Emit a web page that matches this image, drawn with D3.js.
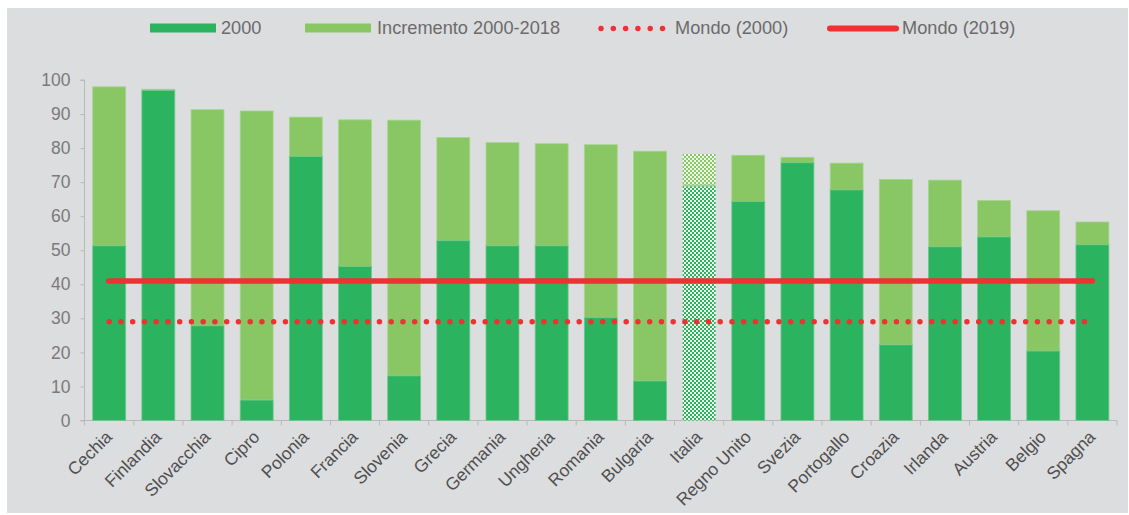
<!DOCTYPE html>
<html><head><meta charset="utf-8">
<script src="https://cdn.jsdelivr.net/npm/d3@7"></script>
<style>
html,body{margin:0;padding:0;background:#fff;}
svg{display:block;font-family:"Liberation Sans",Arial,sans-serif;}
</style></head>
<body>
<svg id="chart" width="1129" height="515"></svg>
<script>
const categories = ["Cechia","Finlandia","Slovacchia","Cipro","Polonia","Francia","Slovenia","Grecia","Germania","Ungheria","Romania","Bulgaria","Italia","Regno Unito","Svezia","Portogallo","Croazia","Irlanda","Austria","Belgio","Spagna"];
const values2000 = [51.3,96.9,27.8,6.0,77.5,45.2,13.1,52.8,51.3,51.3,30.2,11.6,69.0,64.3,75.7,67.7,22.2,51.0,53.9,20.4,51.6];
const total2018 = [98.0,97.3,91.3,90.9,89.1,88.3,88.2,83.1,81.6,81.3,81.0,79.1,78.3,77.9,77.3,75.6,70.8,70.6,64.6,61.6,58.3];
const world2000 = 29;
const world2019 = 41;
const yTicks = [0,10,20,30,40,50,60,70,80,90,100];
const legendLabels = ["2000","Incremento 2000-2018","Mondo (2000)","Mondo (2019)"];
const highlight = "Italia";

const C = {bg:"#dcdddf", dark:"#2bb35f", light:"#89c764", red:"#ee3131", text:"#6b6b6b", axis:"#b9b9b9"};

const svg = d3.select("#chart");
svg.append("rect").attr("x",0).attr("y",0).attr("width",1129).attr("height",515).attr("fill","#fff");
svg.append("rect").attr("x",7).attr("y",8).attr("width",1121).attr("height",505).attr("fill",C.bg);

// patterns for highlighted bar
const defs = svg.append("defs");
function checker(id, col){
  const p = defs.append("pattern").attr("id",id).attr("patternUnits","userSpaceOnUse").attr("width",4).attr("height",4);
  p.append("rect").attr("width",4).attr("height",4).attr("fill","#eef5ea");
  p.append("rect").attr("width",2).attr("height",2).attr("fill",col);
  p.append("rect").attr("x",2).attr("y",2).attr("width",2).attr("height",2).attr("fill",col);
}
checker("chkDark", C.dark);
checker("chkLight", C.light);

const x = d3.scaleBand().domain(categories).range([84.6,1117]).paddingInner(0.33).paddingOuter(0.165);
const y = d3.scaleLinear().domain([0,100]).range([420.5,80]);

// y axis
const yAxis = d3.axisLeft(y).tickValues(yTicks).tickSize(4).tickPadding(10).tickFormat(d3.format("d"));
const gy = svg.append("g").attr("transform","translate(84.5,0)").call(yAxis);
gy.select(".domain").attr("stroke",C.axis).attr("d","M-4,420.5H0V80H-4");
gy.selectAll(".tick line").attr("stroke",C.axis);
gy.selectAll(".tick text").attr("fill","#7a7a7a").attr("font-size",17.5).attr("font-family","Liberation Sans, Arial, sans-serif");

// x axis line and ticks at band boundaries
const step = x.step();
const bounds = d3.range(categories.length+1).map(i => 84.6 + i*step);
svg.append("line").attr("x1",84.6).attr("x2",1117).attr("y1",420.5).attr("y2",420.5).attr("stroke",C.axis);
svg.selectAll(".xt").data(bounds).enter().append("line")
  .attr("x1",d=>d).attr("x2",d=>d).attr("y1",420.5).attr("y2",425.5).attr("stroke",C.axis);

// bars
const bars = svg.append("g");
categories.forEach((c,i)=>{
  const hi = c===highlight;
  bars.append("rect").attr("x",x(c)).attr("width",x.bandwidth())
    .attr("y",y(total2018[i])).attr("height",y(values2000[i])-y(total2018[i]))
    .attr("fill",hi?"url(#chkLight)":C.light).attr("stroke",hi?"none":"#a6d690").attr("stroke-width",0.8);
  bars.append("rect").attr("x",x(c)).attr("width",x.bandwidth())
    .attr("y",y(values2000[i])).attr("height",y(0)-y(values2000[i]))
    .attr("fill",hi?"url(#chkDark)":C.dark).attr("stroke",hi?"none":"#6cc98a").attr("stroke-width",0.8);
  if(hi){
    bars.append("line").attr("x1",x(c)).attr("x2",x(c)+x.bandwidth()).attr("y1",y(values2000[i])).attr("y2",y(values2000[i]))
      .attr("stroke","#9fcf9a").attr("stroke-width",2);
  }
});

// world lines
const xs = x(categories[0])+x.bandwidth()/2, xe = x(categories[categories.length-1])+x.bandwidth()/2;
svg.append("line").attr("x1",xs).attr("x2",xe-6).attr("y1",y(world2000)).attr("y2",y(world2000))
  .attr("stroke",C.red).attr("stroke-width",5.5).attr("stroke-linecap","round").attr("stroke-dasharray","0 11.75");
svg.append("line").attr("x1",xs-0.5).attr("x2",xe).attr("y1",y(world2019)).attr("y2",y(world2019))
  .attr("stroke",C.red).attr("stroke-width",5.5).attr("stroke-linecap","round");

// x labels
svg.append("g").selectAll("text").data(categories).enter().append("text")
  .attr("transform",d=>`translate(${x(d)+x.bandwidth()/2+4},${438}) rotate(-45)`)
  .attr("text-anchor","end").attr("fill","#505050").attr("font-size",17.5).text(d=>d);

// legend
const lg = svg.append("g").attr("font-size",18.2).attr("fill",C.text);
lg.append("rect").attr("x",150).attr("y",23.5).attr("width",66).attr("height",9).attr("fill",C.dark);
lg.append("text").attr("x",221).attr("y",34).text(legendLabels[0]);
lg.append("rect").attr("x",305).attr("y",23.5).attr("width",66).attr("height",9).attr("fill",C.light);
lg.append("text").attr("x",377).attr("y",34).text(legendLabels[1]);
lg.append("line").attr("x1",601).attr("x2",664).attr("y1",28.5).attr("y2",28.5).attr("stroke",C.red)
  .attr("stroke-width",5.5).attr("stroke-linecap","round").attr("stroke-dasharray","0 12.3");
lg.append("text").attr("x",675).attr("y",34).text(legendLabels[2]);
lg.append("line").attr("x1",830).attr("x2",896).attr("y1",28.5).attr("y2",28.5).attr("stroke",C.red)
  .attr("stroke-width",6).attr("stroke-linecap","round");
lg.append("text").attr("x",902).attr("y",34).text(legendLabels[3]);
</script>
</body></html>
